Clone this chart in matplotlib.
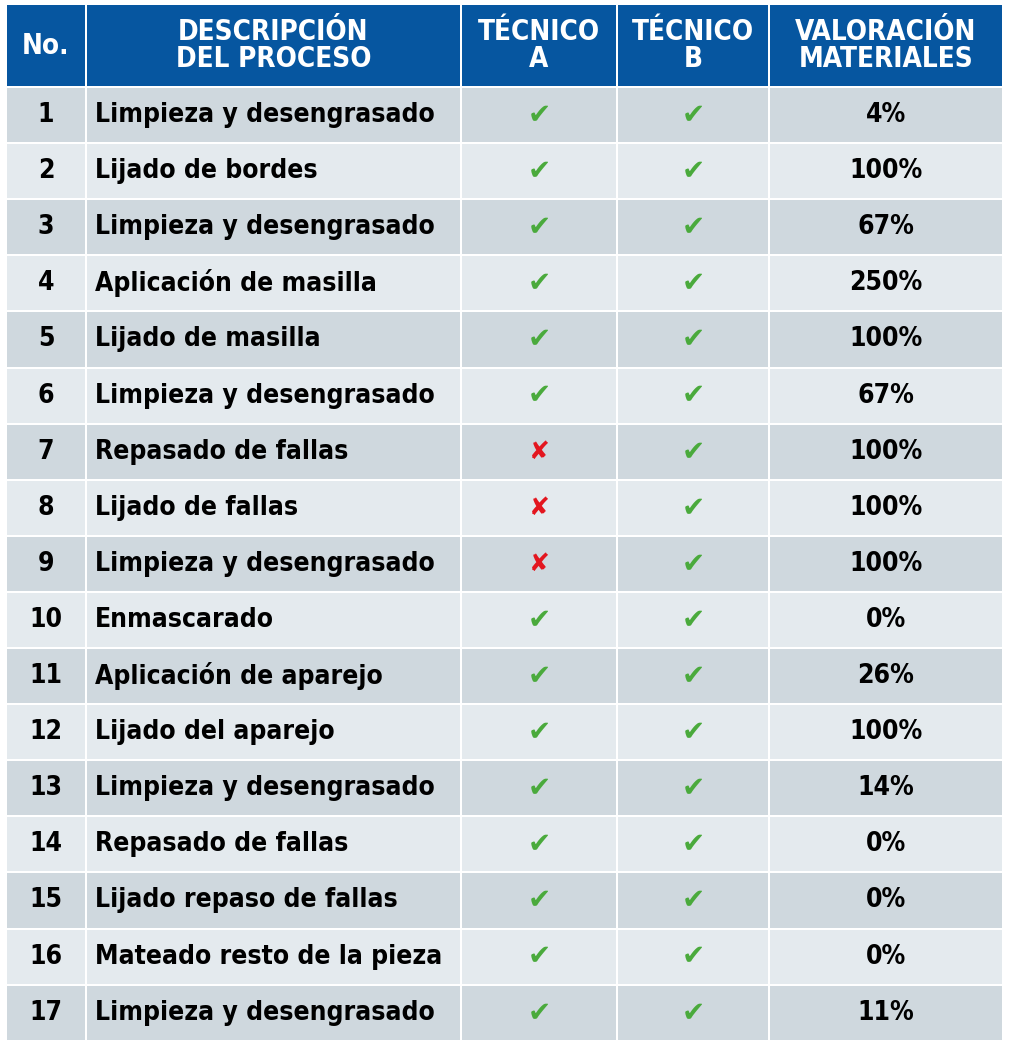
import matplotlib
matplotlib.use("Agg")
import matplotlib.pyplot as plt
from matplotlib.patches import Rectangle

headers = ["No.", "DESCRIPCIÓN\nDEL PROCESO", "TÉCNICO\nA", "TÉCNICO\nB", "VALORACIÓN\nMATERIALES"]
procesos = ["Limpieza y desengrasado", "Lijado de bordes", "Limpieza y desengrasado",
            "Aplicación de masilla", "Lijado de masilla", "Limpieza y desengrasado",
            "Repasado de fallas", "Lijado de fallas", "Limpieza y desengrasado",
            "Enmascarado", "Aplicación de aparejo", "Lijado del aparejo",
            "Limpieza y desengrasado", "Repasado de fallas", "Lijado repaso de fallas",
            "Mateado resto de la pieza", "Limpieza y desengrasado"]
tecnico_a = [1, 1, 1, 1, 1, 1, 0, 0, 0, 1, 1, 1, 1, 1, 1, 1, 1]
tecnico_b = [1] * 17
valoracion = ["4%", "100%", "67%", "250%", "100%", "67%", "100%", "100%", "100%",
              "0%", "26%", "100%", "14%", "0%", "0%", "0%", "11%"]

# column edges in pixels
col_x = [7, 87, 462, 618, 770, 1004]
gap = 2
head_top, head_bot = 5, 86
row_h = 56.1

font = "DejaVu Sans"
stretch = "condensed"
blue = "#0656A0"
dark = "#CFD8DE"
light = "#E4EAEE"

fig = plt.figure(figsize=(10.12, 10.48), dpi=100)
ax = fig.add_axes([0, 0, 1, 1])
ax.set_xlim(0, 1012)
ax.set_ylim(1048, 0)
ax.axis("off")

for j in range(5):
    x0, x1 = col_x[j], col_x[j + 1] - gap
    ax.add_patch(Rectangle((x0, head_top), x1 - x0, head_bot - head_top, color=blue, lw=0))
    ax.text((x0 + x1) / 2, (head_top + head_bot) / 2, headers[j], color="white",
            ha="center", va="center", fontsize=20, fontweight="bold", family=font,
            fontstretch=stretch, linespacing=0.95)

for i in range(17):
    y0 = head_bot + gap + i * row_h
    y1 = y0 + row_h - gap
    yc = (y0 + y1) / 2
    bg = dark if i % 2 == 0 else light
    for j in range(5):
        x0, x1 = col_x[j], col_x[j + 1] - gap
        ax.add_patch(Rectangle((x0, y0), x1 - x0, y1 - y0, color=bg, lw=0))
    ax.text((col_x[0] + col_x[1] - gap) / 2, yc, str(i + 1), ha="center", va="center",
            fontsize=19, fontweight="bold", family=font, fontstretch=stretch, color="black")
    ax.text(col_x[1] + 8, yc, procesos[i], ha="left", va="center",
            fontsize=19, fontweight="bold", family=font, fontstretch=stretch, color="black")
    for j, vals in ((2, tecnico_a), (3, tecnico_b)):
        xc = (col_x[j] + col_x[j + 1] - gap) / 2
        if vals[i]:
            ax.text(xc, yc, "✔", ha="center", va="center", fontsize=20,
                    color="#4AAA3C", family="DejaVu Sans")
        else:
            ax.text(xc, yc, "✘", ha="center", va="center", fontsize=18,
                    color="#E3161F", family="DejaVu Sans")
    ax.text((col_x[4] + col_x[5] - gap) / 2, yc, valoracion[i], ha="center", va="center",
            fontsize=19, fontweight="bold", family=font, fontstretch=stretch, color="black")

fig.savefig("out.png", dpi=100, facecolor="white")
